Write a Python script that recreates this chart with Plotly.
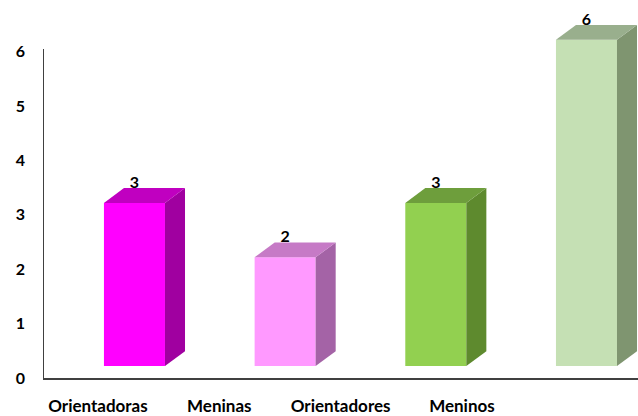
import plotly.graph_objects as go

categories = ["Orientadoras", "Meninas", "Orientadores", "Meninos"]
values = [3, 2, 3, 6]
front_colors = ["#FF00FF", "#FF99FF", "#92D050", "#C5E0B4"]
top_colors = ["#C000C0", "#C67AC6", "#6E9E3C", "#99AF8D"]
side_colors = ["#A000A0", "#A463A6", "#5E8A2E", "#7F9570"]

# style constants (3D look)
BAR_W = 0.405
DX = 0.133
DY = 0.274
BASE = 0.22
FONT = "Lato, 'Open Sans', sans-serif"

fig = go.Figure()
xs = list(range(len(categories)))
for i, (x, v) in enumerate(zip(xs, values)):
    x0, x1 = x - BAR_W / 2, x + BAR_W / 2
    y0, y1 = BASE, BASE + v
    # front face
    fig.add_trace(go.Scatter(x=[x0, x1, x1, x0, x0], y=[y0, y0, y1, y1, y0],
                             mode="lines", fill="toself", fillcolor=front_colors[i],
                             line=dict(width=0), hoverinfo="skip", showlegend=False))
    # side face
    fig.add_trace(go.Scatter(x=[x1, x1 + DX, x1 + DX, x1, x1],
                             y=[y0, y0 + DY, y1 + DY, y1, y0],
                             mode="lines", fill="toself", fillcolor=side_colors[i],
                             line=dict(width=0), hoverinfo="skip", showlegend=False))
    # top face
    fig.add_trace(go.Scatter(x=[x0, x0 + DX, x1 + DX, x1, x0],
                             y=[y1, y1 + DY, y1 + DY, y1, y1],
                             mode="lines", fill="toself", fillcolor=top_colors[i],
                             line=dict(width=0), hoverinfo="skip", showlegend=False))

# value labels
fig.add_trace(go.Scatter(x=xs, y=[v + BASE + DY - 0.07 for v in values], mode="text",
                         text=[str(v) for v in values], textposition="top center",
                         textfont=dict(family=FONT, size=16, color="#000000", weight="bold"),
                         cliponaxis=False, hoverinfo="skip", showlegend=False))

# category axis (labels)
fig.add_trace(go.Scatter(x=categories, y=[0] * len(categories), xaxis="x2",
                         mode="markers", marker=dict(opacity=0), hoverinfo="skip",
                         showlegend=False))

YMAX_LINE = 6.05
# y axis line
fig.add_shape(type="line", xref="x", yref="y", x0=-0.607, x1=-0.607, y0=0, y1=YMAX_LINE,
              line=dict(color="#404040", width=2))

fig.update_layout(
    width=638, height=416,
    margin=dict(l=43, r=0, t=10, b=36),
    paper_bgcolor="white", plot_bgcolor="white",
    xaxis=dict(range=[-0.607, 3.342], showgrid=False, zeroline=False,
               showticklabels=False, showline=True, linecolor="#404040", linewidth=2,
               fixedrange=True),
    xaxis2=dict(type="category", overlaying="x", side="bottom", anchor="y",
                range=[-0.453, 4.451], showgrid=False, zeroline=False, showline=False,
                tickfont=dict(family=FONT, size=17, color="#000000", weight="bold"),
                ticklabelstandoff=16, ticks=""),
    yaxis=dict(range=[0, 370 / 54.67], showgrid=False, zeroline=False,
               tickvals=[0, 1, 2, 3, 4, 5, 6], showline=False,
               tickfont=dict(family=FONT, size=16, color="#000000", weight="bold"),
               ticklabelstandoff=17, ticks="", fixedrange=True),
)

fig.write_html("out.html")
